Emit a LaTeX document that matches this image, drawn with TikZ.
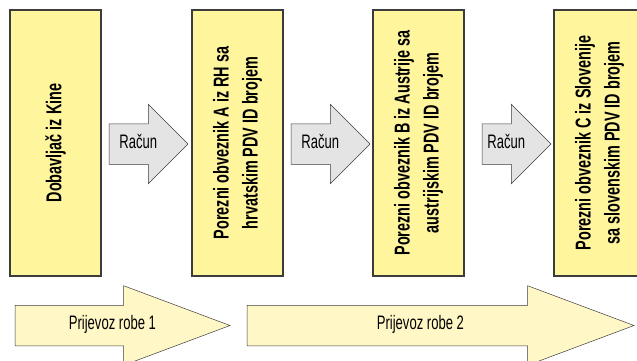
\documentclass[tikz,border=0pt]{standalone}
\usepackage{fontspec}
\setmainfont{Liberation Sans}[FakeStretch=0.67]
\usetikzlibrary{shapes.arrows}
\definecolor{boxyellow}{HTML}{FFF59D}
\definecolor{roadyellow}{HTML}{FFF8C6}
\definecolor{billgray}{HTML}{E4E4E4}
\definecolor{edgegray}{HTML}{3C3C3C}
\begin{document}
\begin{tikzpicture}[x=1pt,y=-1pt,
		party/.style={draw=edgegray,line width=1.2pt,fill=boxyellow,rotate=90,
			minimum width=266pt,minimum height=91pt,inner sep=0,align=center,
			font=\bfseries\fontsize{21.5}{29}\selectfont},
		bill/.style={single arrow,draw=edgegray,line width=0.5pt,fill=billgray,
			anchor=tail,outer sep=0pt,
			minimum height=79pt,single arrow head extend=19.5pt,
			text height=12pt,text depth=4pt,inner xsep=1pt,inner ysep=12pt,
			font=\fontsize{19.5}{22}\selectfont},
		road/.style={bill,fill=roadyellow,single arrow tip angle=41}]
		\clip (0,0) rectangle (637,361);
		\fill[white] (0,0) rectangle (637,361);
		\begin{scope}
		\node[party] (k) at (55.5,143) {Dobavljač iz Kine};
		\node[party] (a) at (237.5,143) {Porezni obveznik A iz RH sa\\hrvatskim PDV ID brojem};
		\node[party] (b) at (418.5,143) {Porezni obveznik B iz Austrije sa\\austrijskim PDV ID brojem};
		\node[party] (c) at (599.5,143) {Porezni obveznik C iz Slovenije\\sa slovenskim PDV ID brojem};
		\end{scope}
		% racuni
		\node[bill] (r1) at (109,144) {Račun};
		\node[bill] (r2) at (291,144) {Račun};
		\node[bill,minimum height=69pt] (r3) at (482,144) {Račun};
		% prijevoz
		\node[road,minimum height=215pt] (p1) at (15,325.5) {\hspace*{34pt}Prijevoz robe 1};
		\node[road,minimum height=387pt] (p2) at (247,325.5) {\hspace*{14pt}Prijevoz robe 2};
\end{tikzpicture}
\end{document}
